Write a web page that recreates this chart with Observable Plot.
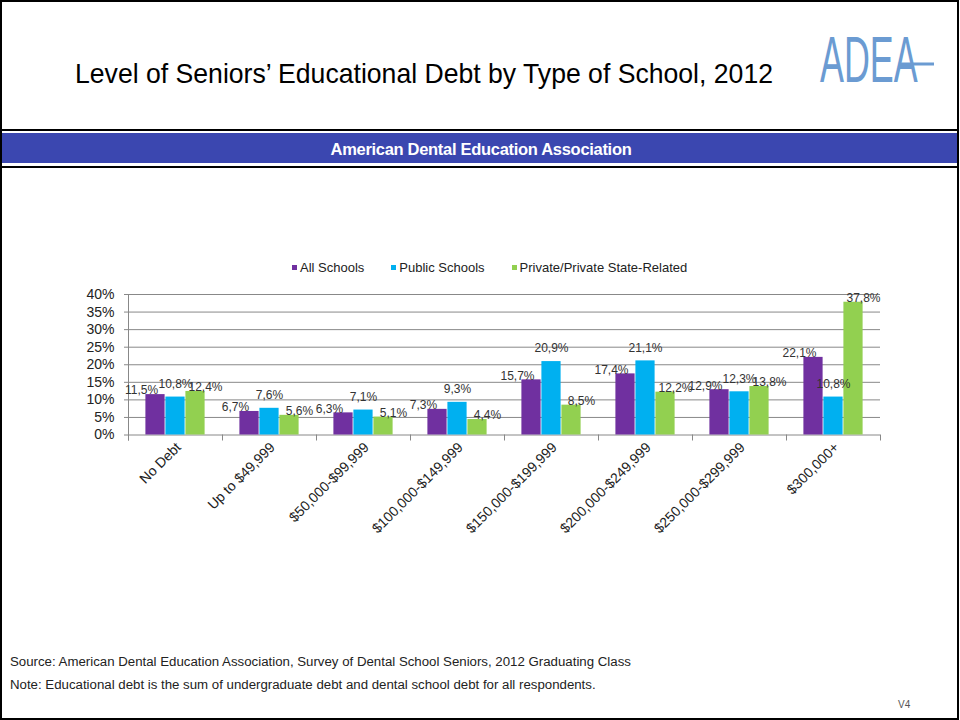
<!DOCTYPE html>
<html>
<head>
<meta charset="utf-8">
<script src="https://cdn.jsdelivr.net/npm/d3@7"></script>
<script src="https://cdn.jsdelivr.net/npm/@observablehq/plot@0.6"></script>
<style>
  html, body { margin: 0; padding: 0; background: #fff; }
  body { width: 960px; height: 720px; position: relative; overflow: hidden; font-family: "Liberation Sans", Arial, sans-serif; }
  .abs { position: absolute; }
  #frame { left: 0; top: 0; width: 959px; height: 720px; box-sizing: border-box; border: 2px solid #000; }
  #sep1 { left: 0; top: 129px; width: 959px; height: 2px; background: #000; }
  #band { left: 2px; top: 133px; width: 955px; height: 30px; background: #3b47b0; }
  #sep2 { left: 0; top: 166px; width: 959px; height: 2px; background: #000; }
  #title { left: 0; width: 848px; top: 58px; text-align: center; font-size: 28px; color: #000; white-space: nowrap; transform: scaleX(0.95); transform-origin: 424px 0; }
  #bandText { left: 0; width: 962px; top: 134px; line-height: 30px; text-align: center; font-size: 16.5px; font-weight: bold; color: #fff; white-space: nowrap; letter-spacing: -0.3px; }
  #legend { left: 292px; top: 260px; display: flex; font-size: 13px; color: #222; white-space: nowrap; }
  #legend .item { display: flex; align-items: center; margin-right: 27px; }
  #legend .sw { width: 5px; height: 5px; margin-right: 3px; }
  #chart { left: 0; top: 270px; }
  .foot { left: 10px; font-size: 13.25px; color: #222; white-space: nowrap; }
  #v4 { left: 898px; top: 699px; font-size: 10px; color: #555; }
</style>
</head>
<body>
<div id="frame" class="abs"></div>
<div id="sep1" class="abs"></div>
<div id="band" class="abs"></div>
<div id="sep2" class="abs"></div>
<div id="title" class="abs">Level of Seniors’ Educational Debt by Type of School, 2012</div>
<svg class="abs" style="left:800px;top:20px;overflow:visible" width="150" height="80">
  <text transform="translate(20,62) scale(0.56,1)" font-family="Liberation Sans, Arial, sans-serif" font-size="64" fill="#6b9bd2">ADEA</text>
  <line x1="100" y1="44" x2="134" y2="44" stroke="#6b9bd2" stroke-width="3"/>
</svg>
<div id="bandText" class="abs">American Dental Education Association</div>
<div id="legend" class="abs"></div>
<div id="chart" class="abs"></div>
<div class="abs foot" style="top:654px">Source: American Dental Education Association, Survey of Dental School Seniors, 2012 Graduating Class</div>
<div class="abs foot" style="top:677px">Note: Educational debt is the sum of undergraduate debt and dental school debt for all respondents.</div>
<div id="v4" class="abs">V4</div>
<script>
// ---- Data ----
const categories = ["No Debt", "Up to $49,999", "$50,000-$99,999", "$100,000-$149,999", "$150,000-$199,999", "$200,000-$249,999", "$250,000-$299,999", "$300,000+"];
const series = ["All Schools", "Public Schools", "Private/Private State-Related"];
const allSchools = [11.5, 6.7, 6.3, 7.3, 15.7, 17.4, 12.9, 22.1];
const publicSchools = [10.8, 7.6, 7.1, 9.3, 20.9, 21.1, 12.3, 10.8];
const privateSchools = [12.4, 5.6, 5.1, 4.4, 8.5, 12.2, 13.8, 37.8];
const yTicks = [0, 5, 10, 15, 20, 25, 30, 35, 40];

// ---- Styles ----
const colors = ["#7030a0", "#00b0f0", "#92d050"];
const gridColor = "#888888";
const labelOffsets = [{dx: -14, dy: -4}, {dx: 0, dy: -13}, {dx: 10, dy: -4}];

const values = [allSchools, publicSchools, privateSchools];
const rows = categories.flatMap((c, i) => series.map((s, j) => ({category: c, series: s, value: values[j][i]})));
const fmt = v => v.toFixed(1).replace(".", ",") + "%";

// legend
const legend = document.getElementById("legend");
series.forEach((s, j) => {
  const item = document.createElement("div");
  item.className = "item";
  const sw = document.createElement("span");
  sw.className = "sw";
  sw.style.background = colors[j];
  item.appendChild(sw);
  item.appendChild(document.createTextNode(s));
  legend.appendChild(item);
});

const H = 300, mTop = 24, mBottom = 135.5;
const plotH = H - mTop - mBottom;

const chart = Plot.plot({
  width: 960,
  height: H,
  marginLeft: 126,
  marginRight: 78,
  marginTop: mTop,
  marginBottom: mBottom,
  style: {fontFamily: "Liberation Sans, Arial, sans-serif", fontSize: "12px", color: "#222", background: "transparent", overflow: "visible"},
  fx: {domain: categories, padding: 0, label: null},
  x: {domain: series, paddingInner: 0, paddingOuter: 0.77, axis: null},
  y: {domain: [0, 40], label: null},
  color: {domain: series, range: colors},
  marks: [
    Plot.gridY(yTicks, {stroke: gridColor, strokeOpacity: 1}),
    Plot.axisY(yTicks, {anchor: "left", tickSize: 4, tickPadding: 10, tickFormat: d => d + "%", stroke: gridColor, label: null, fontSize: 14}),
    Plot.frame({anchor: "left", facetAnchor: "left", stroke: gridColor, insetBottom: -5}),
    Plot.frame({anchor: "left", stroke: gridColor, insetTop: plotH, insetBottom: -5}),
    Plot.frame({anchor: "right", facetAnchor: "right", stroke: gridColor, insetTop: plotH, insetBottom: -5}),
    Plot.barY(rows, {fx: "category", x: "series", y: "value", fill: "series", insetLeft: 0.4, insetRight: 0.4}),
    ...series.map((s, j) => Plot.text(rows.filter(d => d.series === s), {
      fx: "category", x: "series", y: "value", text: d => fmt(d.value),
      dx: labelOffsets[j].dx, dy: labelOffsets[j].dy, fill: "#333", fontSize: 12
    })),
    Plot.axisFx({anchor: "bottom", tickRotate: -45, tickSize: 0, tickPadding: 10, dx: 3, label: null, fontSize: 14, fill: "#222"})
  ]
});
document.getElementById("chart").appendChild(chart);
</script>
</body>
</html>
